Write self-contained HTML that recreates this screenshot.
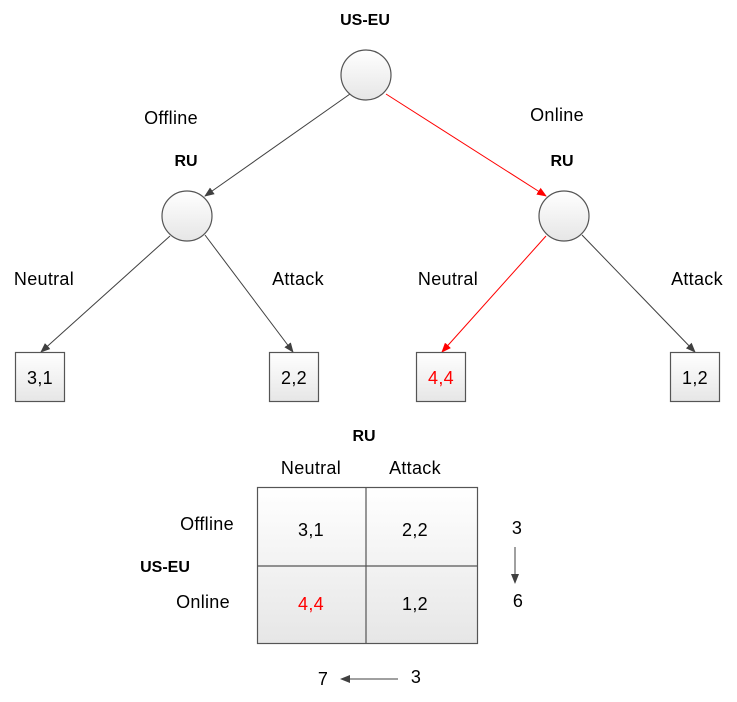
<!DOCTYPE html>
<html><head><meta charset="utf-8"><style>
html,body{margin:0;padding:0;background:#fff;}
svg{display:block;}
text{font-family:"Liberation Sans",sans-serif;font-size:18px;fill:#000;letter-spacing:0.3px;}
.b{font-weight:bold;font-size:16px;letter-spacing:0;}
</style></head><body>
<svg width="737" height="702" viewBox="0 0 737 702" xmlns="http://www.w3.org/2000/svg">
<defs>
<linearGradient id="g" x1="0" y1="0" x2="0" y2="1"><stop offset="0" stop-color="#ffffff"/><stop offset="1" stop-color="#e6e6e6"/></linearGradient>
<marker id="ak" markerWidth="10" markerHeight="10" refX="9" refY="5" orient="auto" markerUnits="userSpaceOnUse"><path d="M0,1 L10,5 L0,9 Z" fill="#404040"/></marker>
<marker id="ar" markerWidth="10" markerHeight="10" refX="9" refY="5" orient="auto" markerUnits="userSpaceOnUse"><path d="M0,1 L10,5 L0,9 Z" fill="#f00"/></marker>
</defs>
<g stroke-width="1">
<line x1="350" y1="94" x2="205" y2="196" stroke="#404040" marker-end="url(#ak)"/>
<line x1="386" y1="94" x2="546" y2="196" stroke="#f00" marker-end="url(#ar)"/>
<line x1="170" y1="236" x2="41" y2="352" stroke="#404040" marker-end="url(#ak)"/>
<line x1="205" y1="235" x2="293" y2="352" stroke="#404040" marker-end="url(#ak)"/>
<line x1="546" y1="236" x2="442" y2="352" stroke="#f00" marker-end="url(#ar)"/>
<line x1="582" y1="235" x2="695" y2="352" stroke="#404040" marker-end="url(#ak)"/>
</g>
<g fill="url(#g)" stroke="#555" stroke-width="1.2">
<circle cx="366" cy="75" r="25"/>
<circle cx="187" cy="216" r="25"/>
<circle cx="564" cy="216" r="25"/>
<rect x="15.5" y="352.5" width="49" height="49"/>
<rect x="269.5" y="352.5" width="49" height="49"/>
<rect x="416.5" y="352.5" width="49" height="49"/>
<rect x="670.5" y="352.5" width="49" height="49"/>
<rect x="257.5" y="487.5" width="220" height="156"/>
<line x1="366" y1="487" x2="366" y2="643"/>
<line x1="257" y1="566" x2="477" y2="566"/>
</g>
<g text-anchor="middle">
<text x="365" y="25" class="b">US-EU</text>
<text x="171" y="124">Offline</text>
<text x="557" y="121">Online</text>
<text x="186" y="166" class="b">RU</text>
<text x="562" y="166" class="b">RU</text>
<text x="44" y="285">Neutral</text>
<text x="298" y="285">Attack</text>
<text x="448" y="285">Neutral</text>
<text x="697" y="285">Attack</text>
<text x="40" y="384">3,1</text>
<text x="294" y="384">2,2</text>
<text x="441" y="384" style="fill:#f00">4,4</text>
<text x="695" y="384">1,2</text>
<text x="364" y="441" class="b">RU</text>
<text x="311" y="474">Neutral</text>
<text x="415" y="474">Attack</text>
<text x="207" y="530">Offline</text>
<text x="165" y="572" class="b">US-EU</text>
<text x="203" y="608">Online</text>
<text x="311" y="536">3,1</text>
<text x="415" y="536">2,2</text>
<text x="311" y="610" style="fill:#f00">4,4</text>
<text x="415" y="610">1,2</text>
<text x="517" y="534">3</text>
<text x="518" y="607">6</text>
<text x="323" y="685">7</text>
<text x="416" y="683">3</text>
</g>
<line x1="515" y1="547" x2="515" y2="583" stroke="#404040" marker-end="url(#ak)"/>
<line x1="398" y1="679" x2="341" y2="679" stroke="#404040" marker-end="url(#ak)"/>
</svg>
</body></html>
